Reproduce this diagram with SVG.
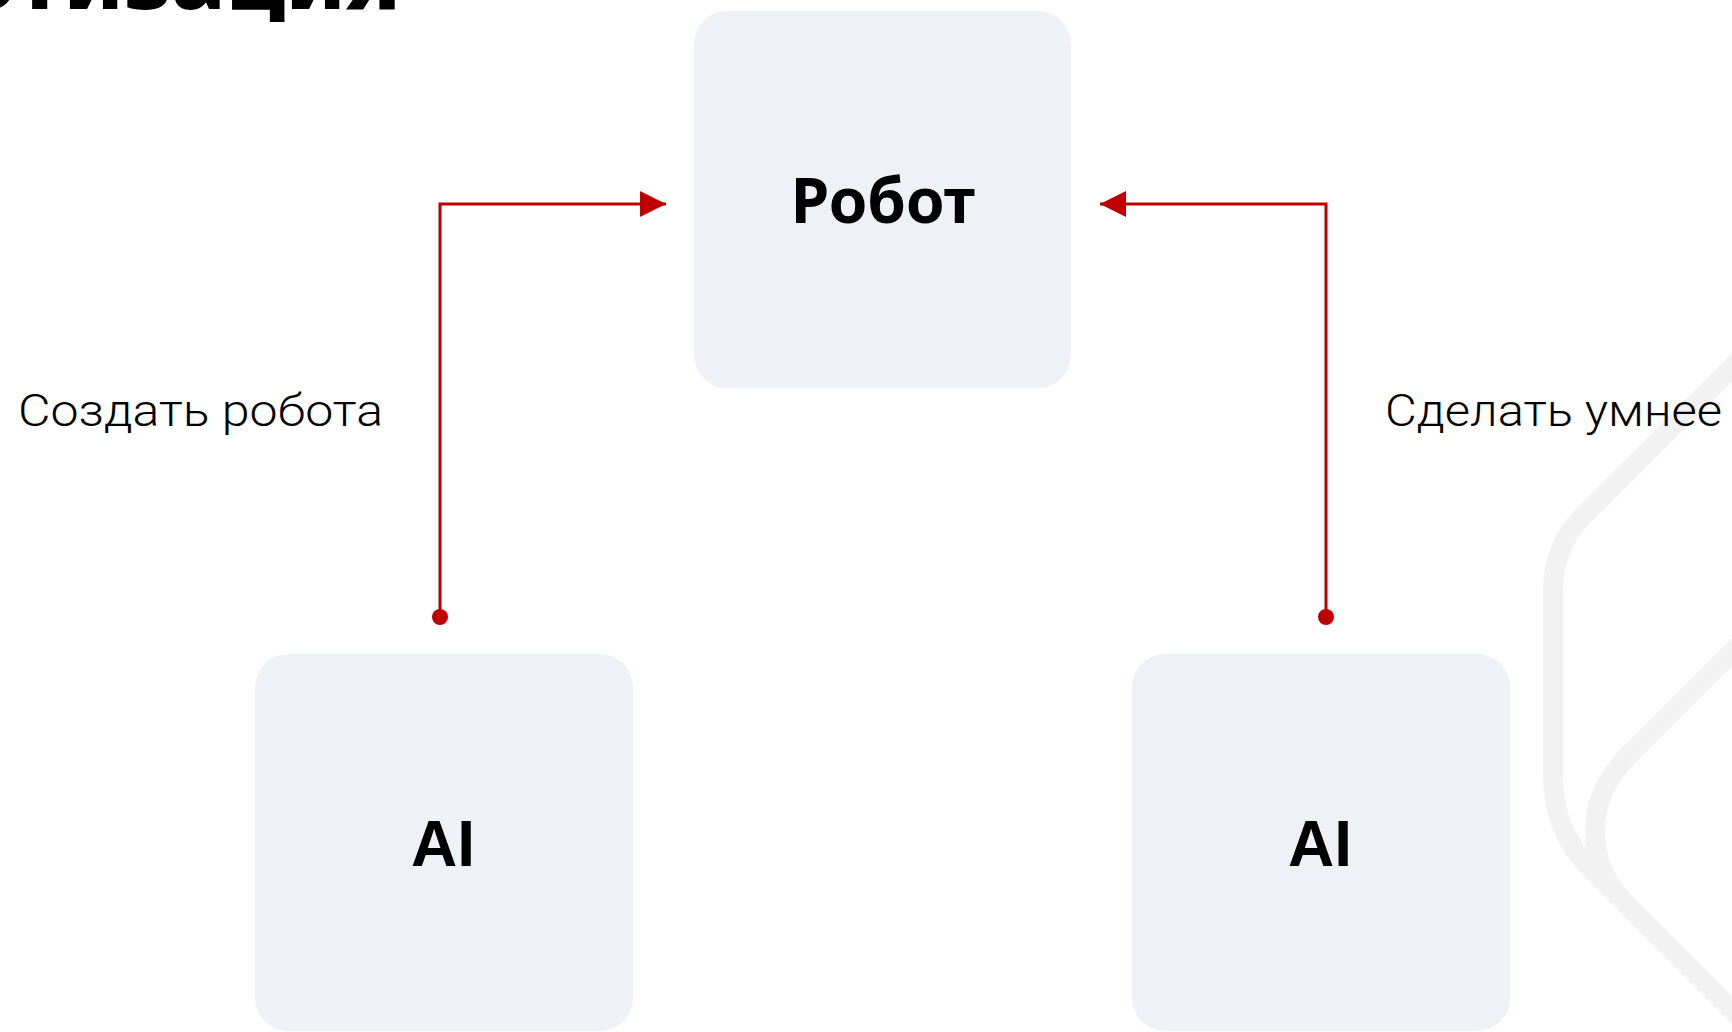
<svg xmlns="http://www.w3.org/2000/svg" width="1732" height="1032" viewBox="0 0 1732 1032">
  <style>
    .box { fill: #EEF1F6; }
    .node-title { font-family: "Noto Sans", "Liberation Sans", sans-serif; font-weight: 700; fill: #000; text-anchor: middle; }
    .ai { font-family: "Liberation Sans", Arial, sans-serif; font-weight: 700; font-size: 64px; fill: #000; text-anchor: middle; }
    .label { font-family: Roboto, "Noto Sans", "Liberation Sans", sans-serif; font-weight: 300; font-size: 44px; fill: #000; }
    .conn { fill: none; stroke: #C00000; stroke-width: 3; }
    .dot { fill: #C00000; }
    .deco { fill: none; stroke: #F2F2F2; stroke-width: 20; }
  </style>
  <defs>
    <marker id="arrow" viewBox="0 0 26 26" refX="26" refY="13" markerWidth="26" markerHeight="26" markerUnits="userSpaceOnUse" orient="auto">
      <path d="M0,0 L26,13 L0,26 Z" fill="#C00000"/>
    </marker>
  </defs>
  <rect width="1732" height="1032" fill="#FFFFFF"/>

  <g id="decoration">
    <path class="deco" d="M1760,339 L1584,515 Q1553,546 1553,590 L1553,775 Q1553,831 1590,868 L1760,1038"/>
    <path class="deco" d="M1760,624 L1630,754 Q1595,789 1595,830 Q1595,873 1625,903 L1660,938"/>
  </g>

  <g id="title">
    <text x="401" y="9" font-family="Noto Sans, Liberation Sans, sans-serif" font-weight="800" font-size="90" fill="#000" text-anchor="end">Роботизация</text>
  </g>

  <g id="node-robot">
    <rect class="box" x="694" y="11" width="377" height="377" rx="33" ry="33"/>
    <text class="node-title" x="883" y="223" font-size="62">Робот</text>
  </g>

  <g id="node-ai-left">
    <rect class="box" x="255" y="654" width="378" height="377" rx="33" ry="33"/>
    <text class="ai" x="443" y="866">AI</text>
  </g>

  <g id="node-ai-right">
    <rect class="box" x="1132" y="654" width="378" height="377" rx="33" ry="33"/>
    <text class="ai" x="1320" y="866">AI</text>
  </g>

  <g id="connectors">
    <path class="conn" d="M440,617 L440,204 L666,204" marker-end="url(#arrow)"/>
    <circle class="dot" cx="440" cy="617" r="8"/>
    <path class="conn" d="M1326,617 L1326,204 L1100,204" marker-end="url(#arrow)"/>
    <circle class="dot" cx="1326" cy="617" r="8"/>
  </g>

  <g id="labels">
    <text class="label" x="18" y="426" textLength="365" lengthAdjust="spacingAndGlyphs">Создать робота</text>
    <text class="label" x="1385" y="426" textLength="337" lengthAdjust="spacingAndGlyphs">Сделать умнее</text>
  </g>
</svg>
